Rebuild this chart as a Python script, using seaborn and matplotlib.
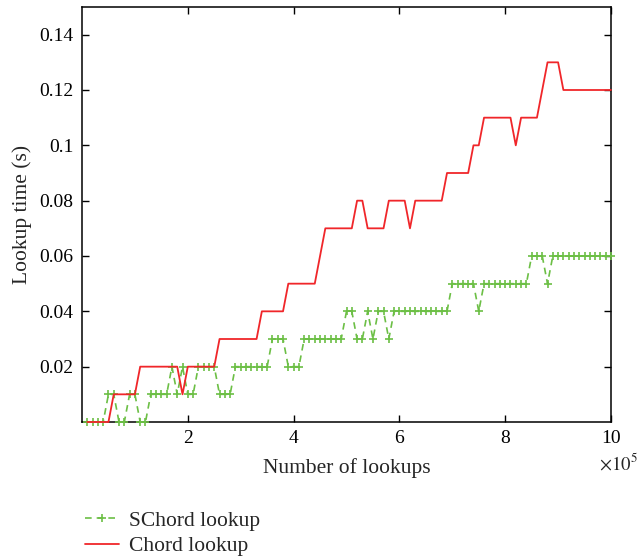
import numpy as np
import pandas as pd
import matplotlib
matplotlib.use("Agg")
import matplotlib.pyplot as plt
import seaborn as sns

# x positions in units of 1e5 lookups
x_vals = [round(0.1 * i, 1) for i in range(1, 101)]

schord = (
    [0.00] * 4 + [0.01] * 2 + [0.00] * 2 + [0.01] * 2 + [0.00] * 2 +
    [0.01] * 4 + [0.02] + [0.01] + [0.02] + [0.01] * 2 + [0.02] * 4 +
    [0.01] * 3 + [0.02] * 7 + [0.03] * 3 + [0.02] * 3 + [0.03] * 8 +
    [0.04] * 2 + [0.03] * 2 + [0.04] + [0.03] + [0.04] * 2 + [0.03] +
    [0.04] * 11 + [0.05] * 5 + [0.04] + [0.05] * 9 + [0.06] * 3 +
    [0.05] + [0.06] * 12
)

chord = (
    [0.00] * 5 + [0.01] * 5 + [0.02] * 8 + [0.01] + [0.02] * 6 +
    [0.03] * 8 + [0.04] * 5 + [0.05] * 6 + [0.06] + [0.07] * 6 +
    [0.08] * 2 + [0.07] * 4 + [0.08] * 4 + [0.07] + [0.08] * 6 +
    [0.09] * 5 + [0.10] * 2 + [0.11] * 6 + [0.10] + [0.11] * 4 +
    [0.12] + [0.13] * 3 + [0.12] * 10
)

x_ticks = [2, 4, 6, 8, 10]
y_ticks = [0.02, 0.04, 0.06, 0.08, 0.10, 0.12, 0.14]
y_tick_labels = ["0.02", "0.04", "0.06", "0.08", "0.1", "0.12", "0.14"]
series_names = ["SChord lookup", "Chord lookup"]

df_s = pd.DataFrame({"x": x_vals, "y": schord})
df_c = pd.DataFrame({"x": x_vals, "y": chord})

sns.set_style("ticks")
plt.rcParams["font.family"] = ["Liberation Serif", "DejaVu Serif"]
plt.rcParams["mathtext.fontset"] = "stix"
plt.rcParams["xtick.direction"] = "in"
plt.rcParams["ytick.direction"] = "in"

fig = plt.figure(figsize=(6.41, 5.58), dpi=100)
ax = fig.add_axes([82 / 641, 1 - 422 / 558, 529 / 641, 415 / 558])

green = "#6cbf45"
red = "#f0262a"

sns.lineplot(data=df_s, x="x", y="y", ax=ax, color=green,
             marker="+", markersize=5.5, markeredgewidth=1.2,
             markeredgecolor=green, markerfacecolor=green, linewidth=1.2,
             label=series_names[0], legend=False)
ax.lines[-1].set_linestyle((0, (4, 3)))
ax.lines[-1].set_clip_on(False)
sns.lineplot(data=df_c, x="x", y="y", ax=ax, color=red, linewidth=1.3,
             label=series_names[1], legend=False)
ax.lines[-1].set_clip_on(False)

ax.set_xlim(0, 10)
ax.set_ylim(0, 0.15)
ax.set_xticks(x_ticks)
ax.set_xticklabels([str(t) for t in x_ticks])
ax.set_yticks(y_ticks)
ax.set_yticklabels(y_tick_labels)
ax.tick_params(axis="both", which="both", top=True, right=True, length=5,
               width=1, labelsize=14, colors="black", pad=6)
for s in ax.spines.values():
    s.set_visible(True)
    s.set_linewidth(1.1)
    s.set_color("black")
    s.set_zorder(1)

ax.set_xlabel("Number of lookups", fontsize=15.5, labelpad=8)
ax.set_ylabel("Lookup time (s)", fontsize=15.5, labelpad=5)

ax.text(0.978, -0.099, r"$\times10^{5}$", transform=ax.transAxes,
        ha="left", va="center", fontsize=13.5)

handles, labels = ax.get_legend_handles_labels()
fig.legend(handles, labels, loc="upper left",
           bbox_to_anchor=(76 / 641, 1 - 502 / 558), frameon=False,
           fontsize=15.5, handlelength=1.6, labelspacing=0.25,
           borderaxespad=0, handletextpad=0.45)

fig.savefig("out.png", dpi=100)
